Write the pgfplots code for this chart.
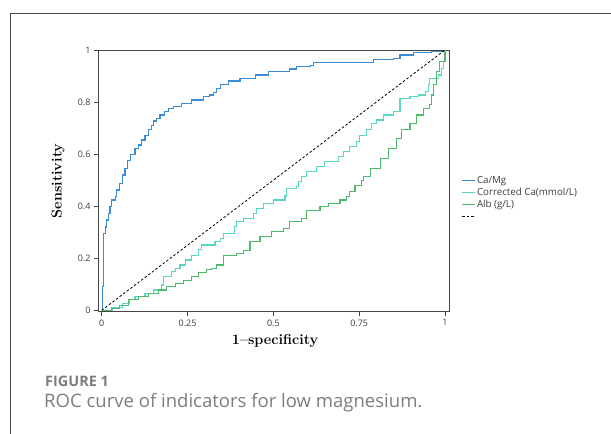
\documentclass[border=0pt]{standalone}
\usepackage{fontspec}
\usepackage{pgfplots}
\pgfplotsset{compat=1.18}
\newfontfamily\osans{Open Sans}

\definecolor{camg}{RGB}{58,140,212}
\definecolor{corrca}{RGB}{92,214,196}
\definecolor{alb}{RGB}{78,188,108}
\definecolor{framegray}{RGB}{70,70,70}
\definecolor{capgray}{RGB}{125,125,125}
\definecolor{ticktext}{RGB}{60,60,60}

\begin{document}
\begin{tikzpicture}
\path[use as bounding box] (0,0) rectangle (611bp,434bp);
\draw[framegray, line width=1bp] (612bp,420bp) -- (10bp,420bp) -- (10bp,-1bp);

\begin{axis}[
  at={(98.3bp,122.3bp)}, anchor=south west,
  scale only axis, width=350.7bp, height=261.7bp,
  xmin=-0.0099, xmax=1.0117, ymin=-0.0054, ymax=1,
  axis line style={framegray, line width=0.8bp},
  tick align=outside, xtick pos=bottom, ytick pos=left,
  major tick length=4bp,
  tick style={framegray, line width=0.7bp},
  xtick={0,0.25,0.5,0.75,1}, xticklabels={0,0.25,0.5,0.75,1},
  ytick={0,0.2,0.4,0.6,0.8,1}, yticklabels={0,0.2,0.4,0.6,0.8,1},
  /pgf/number format/assume math mode=true,
  ticklabel style={font=\osans\fontsize{9}{10}\selectfont, text=ticktext},
  xlabel={1\textendash specificity}, ylabel={Sensitivity},
  every axis x label/.style={at={(axis description cs:0.504,-0.112)}, anchor=center,
    font=\bfseries\fontsize{14.5}{16}\selectfont},
  every axis y label/.style={at={(axis description cs:-0.115,0.5)}, rotate=90, anchor=center,
    font=\bfseries\fontsize{14.5}{16}\selectfont},
  legend cell align=left,
  legend style={at={(axis description cs:1.035,0.525)}, anchor=north west,
    draw=none, fill=none, inner sep=0pt,
    font=\osans\fontsize{9.8}{10}\selectfont, text=ticktext,
    nodes={inner sep=1bp, text height=7.5bp, text depth=2.5bp}},
  legend image code/.code={\draw[#1] (0bp,0bp) -- (13bp,0bp);},
  line width=1.15bp,
]
\addplot[camg, const plot] coordinates {
(0,0)(0.002,0)(0.002,0.09)(0.005,0.09)(0.005,0.296)(0.01,0.32)(0.015,0.347)
(0.019,0.373)(0.024,0.398)(0.029,0.424)(0.039,0.436)(0.044,0.462)(0.053,0.488)
(0.06,0.52)(0.068,0.545)(0.075,0.577)(0.085,0.6)(0.097,0.622)(0.106,0.635)
(0.116,0.654)(0.126,0.67)(0.136,0.693)(0.145,0.71)(0.152,0.727)(0.160,0.738)
(0.170,0.75)(0.182,0.763)(0.194,0.776)(0.209,0.782)(0.233,0.795)(0.262,0.808)
(0.296,0.82)(0.315,0.827)(0.325,0.836)(0.335,0.853)(0.345,0.868)(0.369,0.881)
(0.403,0.891)(0.447,0.904)(0.485,0.919)(0.548,0.927)(0.568,0.936)(0.607,0.942)
(0.616,0.953)(0.665,0.953)(0.791,0.962)(0.849,0.968)(0.869,0.981)(0.908,0.991)
(0.96,0.995)(1,1)
};
\addlegendentry{Ca/Mg}
\addplot[corrca, const plot] coordinates {
(0,0)(0.03,0.01)(0.06,0.025)(0.08,0.04)(0.097,0.052)(0.126,0.065)(0.15,0.078)
(0.175,0.097)(0.18,0.129)(0.204,0.148)(0.214,0.161)(0.228,0.174)(0.243,0.193)
(0.262,0.212)(0.281,0.232)(0.291,0.251)(0.33,0.264)(0.345,0.277)(0.354,0.296)
(0.388,0.321)(0.393,0.34)(0.412,0.353)(0.442,0.373)(0.452,0.392)(0.471,0.411)
(0.5,0.424)(0.534,0.439)(0.539,0.469)(0.568,0.475)(0.573,0.494)(0.583,0.513)
(0.597,0.532)(0.626,0.552)(0.65,0.571)(0.689,0.59)(0.704,0.609)(0.723,0.628)
(0.743,0.648)(0.752,0.673)(0.772,0.693)(0.786,0.718)(0.801,0.731)(0.82,0.75)
(0.849,0.763)(0.869,0.782)(0.869,0.814)(0.898,0.82)(0.922,0.827)(0.942,0.84)
(0.951,0.866)(0.956,0.891)(0.98,0.904)(0.99,0.93)(0.995,0.955)(1,0.99)(1,1)
};
\addlegendentry{Corrected Ca(mmol/L)}
\addplot[alb, const plot] coordinates {
(0,0)(0.029,0.008)(0.053,0.017)(0.078,0.04)(0.107,0.052)(0.136,0.065)(0.165,0.078)
(0.189,0.091)(0.214,0.104)(0.238,0.116)(0.262,0.129)(0.281,0.144)(0.306,0.157)
(0.32,0.161)(0.335,0.174)(0.354,0.212)(0.393,0.219)(0.412,0.229)(0.432,0.264)
(0.461,0.283)(0.495,0.302)(0.529,0.315)(0.548,0.34)(0.583,0.353)(0.597,0.385)
(0.636,0.398)(0.66,0.411)(0.694,0.424)(0.714,0.436)(0.723,0.456)(0.738,0.481)
(0.757,0.5)(0.762,0.513)(0.782,0.546)(0.811,0.584)(0.835,0.622)(0.859,0.661)
(0.874,0.693)(0.898,0.718)(0.918,0.75)(0.937,0.776)(0.956,0.789)(0.961,0.827)
(0.966,0.866)(0.976,0.917)(0.985,0.955)(1,0.981)(1,1)
};
\addlegendentry{Alb (g/L)}
\addplot[black, line width=0.8bp, dash pattern=on 2.5bp off 2bp] coordinates {(0,0)(1,1)};
\addlegendentry{}
\end{axis}

\node[anchor=west, inner sep=0pt, text=capgray, font=\osans\bfseries\fontsize{14.5}{16}\selectfont]
  at (45bp,53bp) {FIGURE 1};
\node[anchor=west, inner sep=0pt, text=capgray, font=\osans\fontsize{18.6}{21}\selectfont]
  at (44bp,31bp) {ROC curve of indicators for low magnesium.};
\end{tikzpicture}
\end{document}
